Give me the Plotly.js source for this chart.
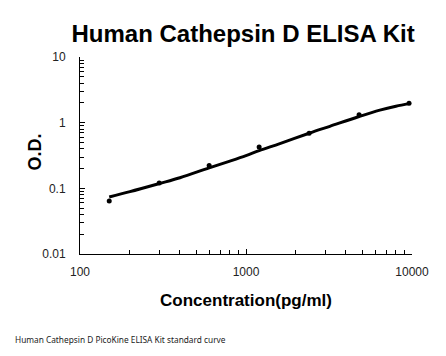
<!DOCTYPE html>
<html>
<head>
<meta charset="utf-8">
<script src="https://cdn.plot.ly/plotly-3.0.1.min.js"></script>
<style>html,body{margin:0;padding:0;background:#fff;}#chart{width:446px;height:356px;}</style>
</head>
<body>
<div id="chart"></div>
<script>
// Measured standard points
var concentration = [150, 300, 600, 1200, 2400, 4800, 9600];
var od = [0.064, 0.121, 0.222, 0.425, 0.687, 1.32, 1.97];
// Fitted curve
var curveX = [150, 200, 300, 400, 600, 800, 1000, 1200, 1600, 2400, 3200, 4800, 6400, 8000, 9600];
var curveY = [0.074, 0.089, 0.118, 0.145, 0.205, 0.26, 0.315, 0.375, 0.48, 0.69, 0.88, 1.24, 1.55, 1.78, 1.95];
var xTickVals = [100, 1000, 10000];
var xTickText = ['100', '1000', '10000'];
var yTickVals = [0.01, 0.1, 1, 10];
var yTickText = ['0.01', '0.1', '1', '10'];

var traces = [
  {x: curveX, y: curveY, type: 'scatter', mode: 'lines', line: {color: '#000', width: 3, shape: 'spline'}, hoverinfo: 'skip'},
  {x: concentration, y: od, type: 'scatter', mode: 'markers', marker: {color: '#000', size: 5}}
];
var tickFont = {family: 'Liberation Sans, Arial, sans-serif', size: 12, color: '#222'};
var layout = {
  width: 446, height: 356,
  margin: {l: 80, r: 34, t: 57, b: 102},
  paper_bgcolor: '#fff', plot_bgcolor: '#fff',
  showlegend: false,
  title: {text: 'Human Cathepsin D ELISA Kit', font: {family: 'Liberation Sans, Arial, sans-serif', size: 24, color: '#000', weight: 'bold'}, x: 0.545, xanchor: 'center', y: 0.905, yanchor: 'middle'},
  xaxis: {
    type: 'log', range: [2, 4], showline: true, linecolor: '#000', linewidth: 1, showgrid: false, zeroline: false,
    ticks: 'inside', ticklen: 5, tickcolor: '#000', tickvals: xTickVals, ticktext: xTickText, tickfont: tickFont, ticklabelstandoff: 7,
    minor: {ticks: 'inside', ticklen: 4, tickcolor: '#000', dtick: 'D1', showgrid: false},
    title: {text: 'Concentration(pg/ml)', font: {family: 'Liberation Sans, Arial, sans-serif', size: 17, color: '#000', weight: 'bold'}, standoff: 15}
  },
  yaxis: {
    type: 'log', range: [-2, 1], showline: true, linecolor: '#000', linewidth: 1, showgrid: false, zeroline: false,
    ticks: 'inside', ticklen: 5, tickcolor: '#000', tickvals: yTickVals, ticktext: yTickText, tickfont: tickFont, ticklabelstandoff: 11,
    minor: {ticks: 'inside', ticklen: 4, tickcolor: '#000', dtick: 'D1', showgrid: false}
  },
  annotations: [
    {text: 'O.D.', textangle: -90, xref: 'paper', yref: 'paper', x: -0.136, y: 0.52, xanchor: 'center', yanchor: 'middle', showarrow: false,
     font: {family: 'Liberation Sans, Arial, sans-serif', size: 18, color: '#000', weight: 'bold'}},
    {text: 'Human Cathepsin D PicoKine ELISA Kit standard curve', xref: 'paper', yref: 'paper', x: -0.203, y: -0.435, xanchor: 'left', yanchor: 'middle', showarrow: false,
     font: {family: 'Noto Sans, sans-serif', size: 8.3, color: '#222'}}
  ]
};
Plotly.newPlot('chart', traces, layout, {displayModeBar: false, staticPlot: true});
</script>
</body>
</html>
